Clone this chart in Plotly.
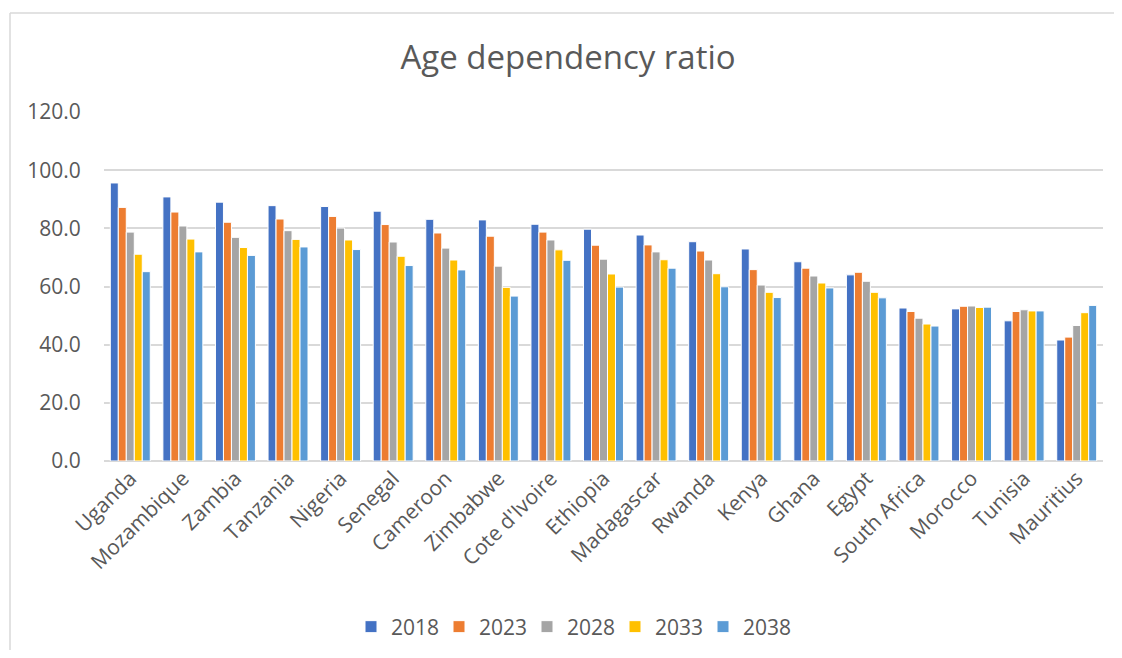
import plotly.graph_objects as go

countries = ["Uganda", "Mozambique", "Zambia", "Tanzania", "Nigeria", "Senegal",
             "Cameroon", "Zimbabwe", "Cote d'Ivoire", "Ethiopia", "Madagascar",
             "Rwanda", "Kenya", "Ghana", "Egypt", "South Africa", "Morocco",
             "Tunisia", "Mauritius"]

v2018 = [95.6, 90.8, 89.0, 87.8, 87.5, 85.9, 83.1, 82.9, 81.4, 79.7, 77.7, 75.4, 72.9, 68.5, 64.0, 52.6, 52.3, 48.2, 41.6]
v2023 = [87.2, 85.6, 82.1, 83.2, 84.1, 81.3, 78.4, 77.3, 78.7, 74.2, 74.3, 72.2, 65.8, 66.3, 64.9, 51.4, 53.2, 51.4, 42.6]
v2028 = [78.7, 80.8, 76.9, 79.2, 80.1, 75.3, 73.2, 67.0, 76.0, 69.4, 71.9, 69.1, 60.5, 63.6, 61.8, 49.1, 53.3, 52.0, 46.6]
v2033 = [71.1, 76.3, 73.4, 76.2, 76.0, 70.4, 69.1, 59.7, 72.6, 64.3, 69.2, 64.4, 58.0, 61.2, 58.0, 47.1, 52.8, 51.6, 51.0]
v2038 = [65.1, 71.9, 70.7, 73.6, 72.7, 67.2, 65.7, 56.7, 69.0, 59.8, 66.3, 59.9, 56.2, 59.5, 56.1, 46.4, 52.9, 51.6, 53.5]

series_names = ["2018", "2023", "2028", "2033", "2038"]
series_values = [v2018, v2023, v2028, v2033, v2038]
colors = ["#4472C4", "#ED7D31", "#A5A5A5", "#FFC000", "#5B9BD5"]

y_ticks = [0, 20, 40, 60, 80, 100, 120]

FONT = "Open Sans"
GREY = "#595959"

fig = go.Figure()
for name, vals, col in zip(series_names, series_values, colors):
    fig.add_trace(go.Bar(
        x=countries, y=vals, name=name,
        marker=dict(color=col, line=dict(color="white", width=1)),
    ))

# the page body has an 8px margin; the figure is sized to fit inside it
OFF = 8
W, H = 1122 - 2 * OFF, 658 - 2 * OFF
L, R, T, B = 104 - OFF, 1103 - OFF, 112 - OFF, 461 - OFF


def px_x(p):
    return (p - OFF - L) / (R - L)


def px_y(p):
    return (B - (p - OFF)) / (B - T)


BORDER = dict(color="#D9D9D9", width=1.5)

fig.update_layout(
    width=W, height=H,
    autosize=False,
    margin=dict(l=L, r=W - R, t=T, b=H - B, pad=0, autoexpand=False),
    paper_bgcolor="white",
    plot_bgcolor="white",
    barmode="group",
    bargap=0.24,
    bargroupgap=0.0,
    font=dict(family=FONT, color=GREY, size=21),
    title=dict(
        text="Age dependency ratio",
        font=dict(family=FONT, size=33, color=GREY),
        x=(568 - OFF) / W, xref="container", xanchor="center",
        y=1 - (57 - OFF) / H, yref="container", yanchor="middle",
    ),
    xaxis=dict(
        tickangle=-45,
        tickfont=dict(family=FONT, size=21, color=GREY),
        showgrid=False,
        showline=False,
        ticks="",
        automargin=False,
    ),
    yaxis=dict(
        range=[0, 120],
        tickvals=y_ticks,
        tickformat=".1f",
        tickfont=dict(family=FONT, size=21, color=GREY),
        showgrid=True,
        gridcolor="#D9D9D9",
        gridwidth=1.5,
        zeroline=True,
        zerolinecolor="#D9D9D9",
        zerolinewidth=1.5,
        showline=False,
        ticks="outside",
        ticklen=18,
        tickcolor="rgba(0,0,0,0)",
        automargin=False,
    ),
    legend=dict(
        orientation="h",
        x=px_x(571), xanchor="center",
        y=px_y(627), yanchor="middle",
        font=dict(family=FONT, size=21, color=GREY),
        bgcolor="rgba(0,0,0,0)",
        entrywidth=43,
        entrywidthmode="pixels",
    ),
    shapes=[
        dict(type="line", xref="paper", yref="paper",
             x0=px_x(10), x1=px_x(1200), y0=px_y(13), y1=px_y(13),
             line=BORDER, layer="below"),
        dict(type="line", xref="paper", yref="paper",
             x0=px_x(10), x1=px_x(10), y0=px_y(13), y1=px_y(800),
             line=BORDER, layer="below"),
    ],
)

fig.write_html("out.html")
